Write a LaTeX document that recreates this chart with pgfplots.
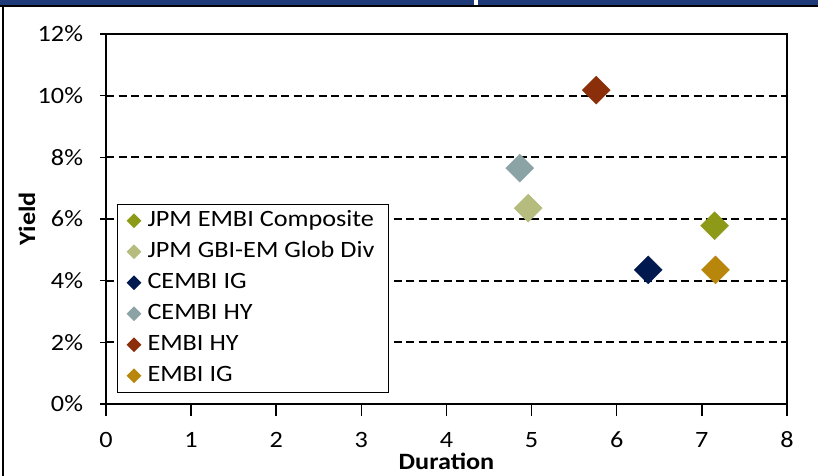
\documentclass[border=0pt]{standalone}
\usepackage{fontspec}
\setmainfont{Carlito}[FakeStretch=1.12]
\usepackage{pgfplots}
\pgfplotsset{compat=1.18}

\definecolor{cComp}{HTML}{8C9A18}
\definecolor{cGbi}{HTML}{B5BC7E}
\definecolor{cCig}{HTML}{001A50}
\definecolor{cChy}{HTML}{8CA3A6}
\definecolor{cEhy}{HTML}{8B2E0A}
\definecolor{cEig}{HTML}{B8860B}
\definecolor{navybar}{HTML}{1F3A78}

\begin{document}
\fontsize{23.5}{28}\selectfont
\begin{tikzpicture}
\useasboundingbox (0bp,0bp) rectangle (818bp,476bp);
% frame bits of the slide around the chart
\fill[navybar] (0bp,471bp) rectangle (818bp,476bp);
\draw[line width=2bp] (0bp,470bp) -- (818bp,470bp);
\fill[white] (474bp,471bp) rectangle (478bp,476bp);
\draw[line width=2.5bp] (3bp,0bp) -- (3bp,471bp);

\begin{axis}[
    at={(106bp,72bp)}, anchor=south west,
    scale only axis,
    width=681bp, height=370bp,
    xmin=0, xmax=8, ymin=0, ymax=12,
    xtick={0,...,8}, ytick={0,2,...,12},
    tick pos=left,
    xtick align=outside, ytick align=center,
    major tick length=12bp,
    /pgf/number format/assume math mode=true,
    yticklabel={\pgfmathprintnumber{\tick}\%},
    xticklabel={\pgfmathprintnumber{\tick}},
    yticklabel style={xshift=-9bp},
    xticklabel style={yshift=-8bp},
    axis line style={line width=1.8bp},
    every tick/.style={black, line width=1.5bp},
    ymajorgrids,
    major grid style={black, line width=2bp, dash pattern=on 8bp off 4.5bp},
    xlabel={\bfseries Duration},
    ylabel={\bfseries Yield},
    xlabel style={at={(axis description cs:0.5,0)}, anchor=center, yshift=-57bp},
    ylabel style={at={(axis description cs:0,0.5)}, anchor=center, yshift=79bp},
    every axis plot/.append style={only marks, mark=square*, mark size=9.9bp,
        mark options={rotate=45}},
    legend image code/.code={\draw[#1, mark size=4.6bp] plot coordinates {(0bp,0bp)};},
    legend cell align=left,
    legend style={at={(0.016,0.03)}, anchor=south west, draw=black,
        line width=1.2bp, row sep=0bp, inner xsep=10bp, inner ysep=1bp,
        /tikz/every odd column/.append style={column sep=3bp},
        nodes={inner xsep=4bp, inner ysep=4bp, text height=17bp, text depth=6bp}},
]
\addplot[color=cComp] coordinates {(7.15,5.78)};
\addlegendentry{JPM EMBI Composite}
\addplot[color=cGbi] coordinates {(4.96,6.35)};
\addlegendentry{JPM GBI-EM Glob Div}
\addplot[color=cCig] coordinates {(6.37,4.35)};
\addlegendentry{CEMBI IG}
\addplot[color=cChy] coordinates {(4.86,7.65)};
\addlegendentry{CEMBI HY}
\addplot[color=cEhy] coordinates {(5.76,10.18)};
\addlegendentry{EMBI HY}
\addplot[color=cEig] coordinates {(7.16,4.35)};
\addlegendentry{EMBI IG}
\end{axis}
\end{tikzpicture}
\end{document}
